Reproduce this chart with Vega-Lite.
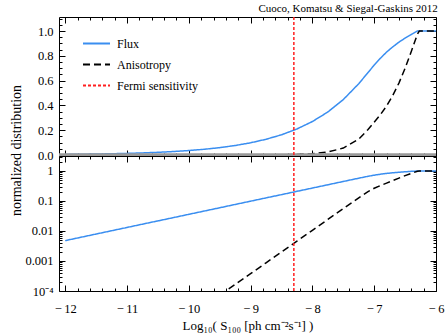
{
  "$schema": "https://vega.github.io/schema/vega-lite/v6.json",
  "padding": {"left": 8, "top": 2, "right": 5, "bottom": 5},
  "background": "white",
  "spacing": 0,
  "bounds": "flush",
  "datasets": {
    "curves": [
      {"x": -12, "series": "Flux", "value": 0.00478},
      {"x": -11.75, "series": "Flux", "value": 0.00615},
      {"x": -11.5, "series": "Flux", "value": 0.00791},
      {"x": -11.25, "series": "Flux", "value": 0.0102},
      {"x": -11, "series": "Flux", "value": 0.0131},
      {"x": -10.75, "series": "Flux", "value": 0.0169},
      {"x": -10.5, "series": "Flux", "value": 0.0217},
      {"x": -10.25, "series": "Flux", "value": 0.0279},
      {"x": -10, "series": "Flux", "value": 0.0359},
      {"x": -9.75, "series": "Flux", "value": 0.0462},
      {"x": -9.5, "series": "Flux", "value": 0.0594},
      {"x": -9.25, "series": "Flux", "value": 0.0766},
      {"x": -9, "series": "Flux", "value": 0.0985},
      {"x": -8.75, "series": "Flux", "value": 0.127},
      {"x": -8.5, "series": "Flux", "value": 0.163},
      {"x": -8.25, "series": "Flux", "value": 0.21},
      {"x": -8, "series": "Flux", "value": 0.27},
      {"x": -7.75, "series": "Flux", "value": 0.347},
      {"x": -7.5, "series": "Flux", "value": 0.447},
      {"x": -7.25, "series": "Flux", "value": 0.575},
      {"x": -7.1, "series": "Flux", "value": 0.665},
      {"x": -7, "series": "Flux", "value": 0.725},
      {"x": -6.9, "series": "Flux", "value": 0.78},
      {"x": -6.8, "series": "Flux", "value": 0.83},
      {"x": -6.7, "series": "Flux", "value": 0.872},
      {"x": -6.6, "series": "Flux", "value": 0.91},
      {"x": -6.5, "series": "Flux", "value": 0.943},
      {"x": -6.4, "series": "Flux", "value": 0.972},
      {"x": -6.3, "series": "Flux", "value": 1.0},
      {"x": -6, "series": "Flux", "value": 1.0},
      {"x": -9.5, "series": "Anisotropy", "value": 0.000072},
      {"x": -9.25, "series": "Anisotropy", "value": 0.000165},
      {"x": -9, "series": "Anisotropy", "value": 0.000379},
      {"x": -8.75, "series": "Anisotropy", "value": 0.00087},
      {"x": -8.5, "series": "Anisotropy", "value": 0.002},
      {"x": -8.25, "series": "Anisotropy", "value": 0.00459},
      {"x": -8, "series": "Anisotropy", "value": 0.01055},
      {"x": -7.75, "series": "Anisotropy", "value": 0.0243},
      {"x": -7.5, "series": "Anisotropy", "value": 0.0557},
      {"x": -7.25, "series": "Anisotropy", "value": 0.128},
      {"x": -7.1, "series": "Anisotropy", "value": 0.205},
      {"x": -7, "series": "Anisotropy", "value": 0.265},
      {"x": -6.9, "series": "Anisotropy", "value": 0.325},
      {"x": -6.8, "series": "Anisotropy", "value": 0.395},
      {"x": -6.7, "series": "Anisotropy", "value": 0.48},
      {"x": -6.6, "series": "Anisotropy", "value": 0.58},
      {"x": -6.5, "series": "Anisotropy", "value": 0.7},
      {"x": -6.4, "series": "Anisotropy", "value": 0.835},
      {"x": -6.3, "series": "Anisotropy", "value": 0.975},
      {"x": -6.27, "series": "Anisotropy", "value": 1.0},
      {"x": -6, "series": "Anisotropy", "value": 1.0}
    ],
    "fermi": [{"x": -8.3, "series": "Fermi sensitivity"}],
    "zero": [{"value": 0}]
  },
  "vconcat": [
    {
      "title": {"text": "Cuoco, Komatsu & Siegal-Gaskins 2012", "anchor": "end", "fontSize": 11, "font": "Liberation Serif", "fontWeight": "normal", "offset": -1, "color": "black"},
      "width": 377,
      "height": 139,
      "layer": [
        {
          "data": {"name": "curves"},
          "mark": {"type": "line", "clip": true, "strokeWidth": 1.5},
          "encoding": {
            "x": {"field": "x", "type": "quantitative", "scale": {"domain": [-12.1, -6], "nice": false, "zero": false},
              "axis": {"orient": "bottom", "labels": false, "title": null,
                "values": [-12,-11.8,-11.6,-11.4,-11.2,-11,-10.8,-10.6,-10.4,-10.2,-10,-9.8,-9.6,-9.4,-9.2,-9,-8.8,-8.6,-8.4,-8.2,-8,-7.8,-7.6,-7.4,-7.2,-7,-6.8,-6.6,-6.4,-6.2,-6],
                "tickSize": {"condition": {"test": "abs(datum.value - round(datum.value)) < 1e-6", "value": -6}, "value": -3}}},
            "y": {"field": "value", "type": "quantitative", "scale": {"domain": [-0.008, 1.113], "nice": false, "zero": false},
              "axis": {"orient": "left", "title": "normalized distribution", "titleX": -43, "titleY": 133, "titleAlign": "center", "titleBaseline": "middle", "titleAngle": -90, "titleFontSize": 14,
                "values": [0,0.05,0.1,0.15,0.2,0.25,0.3,0.35,0.4,0.45,0.5,0.55,0.6,0.65,0.7,0.75,0.8,0.85,0.9,0.95,1,1.05,1.1],
                "labelExpr": "abs(datum.value*5 - round(datum.value*5)) < 1e-6 && datum.value < 1.05 ? format(datum.value, '.1f') : ''",
                "labelPadding": 12,
                "tickSize": {"condition": {"test": "abs(datum.value*5 - round(datum.value*5)) < 1e-6", "value": -6}, "value": -3}}},
            "color": {"field": "series", "type": "nominal", "title": null,
              "scale": {"domain": ["Flux", "Anisotropy", "Fermi sensitivity"], "range": ["#3a8ef0", "#000000", "#ff2020"]},
              "legend": {"orient": "none", "legendX": 23, "legendY": 12, "padding": 0, "rowPadding": -8.5, "symbolSize": 729, "symbolStrokeWidth": 2, "labelOffset": 6, "labelFontSize": 12, "labelFont": "Liberation Serif", "labelColor": "black", "symbolType": "stroke"}},
            "strokeDash": {"field": "series", "type": "nominal", "title": null,
              "scale": {"domain": ["Flux", "Anisotropy", "Fermi sensitivity"], "range": [[1, 0], [7, 4], [3, 2]]},
              "legend": {"orient": "none", "legendX": 23, "legendY": 12, "padding": 0, "rowPadding": -8.5, "symbolSize": 729, "symbolStrokeWidth": 2, "labelOffset": 6, "labelFontSize": 12, "labelFont": "Liberation Serif", "labelColor": "black", "symbolType": "stroke"}}
          }
        },
        {
          "data": {"name": "zero"},
          "mark": {"type": "rule", "color": "#999999", "strokeWidth": 3.5},
          "encoding": {
            "y": {"field": "value", "type": "quantitative",
              "axis": {"orient": "right", "labels": false, "title": null,
                "values": [0,0.05,0.1,0.15,0.2,0.25,0.3,0.35,0.4,0.45,0.5,0.55,0.6,0.65,0.7,0.75,0.8,0.85,0.9,0.95,1,1.05,1.1],
                "tickSize": {"condition": {"test": "abs(datum.value*5 - round(datum.value*5)) < 1e-6", "value": -6}, "value": -3}}}
          }
        },
        {
          "data": {"name": "fermi"},
          "mark": {"type": "rule", "strokeWidth": 1.5},
          "encoding": {
            "x": {"field": "x", "type": "quantitative",
              "axis": {"orient": "top", "labels": false, "title": null,
                "values": [-12,-11.8,-11.6,-11.4,-11.2,-11,-10.8,-10.6,-10.4,-10.2,-10,-9.8,-9.6,-9.4,-9.2,-9,-8.8,-8.6,-8.4,-8.2,-8,-7.8,-7.6,-7.4,-7.2,-7,-6.8,-6.6,-6.4,-6.2,-6],
                "tickSize": {"condition": {"test": "abs(datum.value - round(datum.value)) < 1e-6", "value": -6}, "value": -3}}},
            "color": {"field": "series", "type": "nominal", "title": null},
            "strokeDash": {"field": "series", "type": "nominal", "title": null}
          }
        }
      ],
      "resolve": {"axis": {"x": "independent", "y": "independent"}}
    },
    {
      "width": 377,
      "height": 135,
      "layer": [
        {
          "data": {"name": "curves"},
          "mark": {"type": "line", "clip": true, "strokeWidth": 1.5},
          "encoding": {
            "x": {"field": "x", "type": "quantitative", "scale": {"domain": [-12.1, -6], "nice": false, "zero": false},
              "axis": {"orient": "bottom", "title": "Log₁₀( S₁₀₀ [ph cm⁻²s⁻¹] )", "titleFontSize": 13, "titlePadding": 2,
                "values": [-12,-11.8,-11.6,-11.4,-11.2,-11,-10.8,-10.6,-10.4,-10.2,-10,-9.8,-9.6,-9.4,-9.2,-9,-8.8,-8.6,-8.4,-8.2,-8,-7.8,-7.6,-7.4,-7.2,-7,-6.8,-6.6,-6.4,-6.2,-6],
                "labelExpr": "abs(datum.value - round(datum.value)) < 1e-6 ? '\u2212\u2009' + abs(round(datum.value)) : ''",
                "labelPadding": 17,
                "tickSize": {"condition": {"test": "abs(datum.value - round(datum.value)) < 1e-6", "value": -6}, "value": -3}}},
            "y": {"field": "value", "type": "quantitative", "scale": {"type": "log", "domain": [0.0001, 3.16], "nice": false},
              "axis": {"orient": "left", "title": null,
                "values": [0.0001,0.0002,0.0003,0.0004,0.0005,0.0006,0.0007,0.0008,0.0009,0.001,0.002,0.003,0.004,0.005,0.006,0.007,0.008,0.009,0.01,0.02,0.03,0.04,0.05,0.06,0.07,0.08,0.09,0.1,0.2,0.3,0.4,0.5,0.6,0.7,0.8,0.9,1,2,3],
                "labelExpr": "abs(log(datum.value)/LN10 - round(log(datum.value)/LN10)) < 1e-6 ? (round(log(datum.value)/LN10) == -4 ? '10⁻⁴' : format(datum.value, '~g')) : ''",
                "labelPadding": 12,
                "tickSize": {"condition": {"test": "abs(log(datum.value)/LN10 - round(log(datum.value)/LN10)) < 1e-6", "value": -6}, "value": -3}}},
            "color": {"field": "series", "type": "nominal", "legend": null,
              "scale": {"domain": ["Flux", "Anisotropy", "Fermi sensitivity"], "range": ["#3a8ef0", "#000000", "#ff2020"]}},
            "strokeDash": {"field": "series", "type": "nominal", "legend": null,
              "scale": {"domain": ["Flux", "Anisotropy", "Fermi sensitivity"], "range": [[1, 0], [7, 4], [3, 2]]}}
          }
        },
        {
          "data": {"name": "fermi"},
          "mark": {"type": "rule", "strokeWidth": 1.5},
          "encoding": {
            "x": {"field": "x", "type": "quantitative",
              "axis": {"orient": "top", "labels": false, "title": null,
                "values": [-12,-11.8,-11.6,-11.4,-11.2,-11,-10.8,-10.6,-10.4,-10.2,-10,-9.8,-9.6,-9.4,-9.2,-9,-8.8,-8.6,-8.4,-8.2,-8,-7.8,-7.6,-7.4,-7.2,-7,-6.8,-6.6,-6.4,-6.2,-6],
                "tickSize": {"condition": {"test": "abs(datum.value - round(datum.value)) < 1e-6", "value": -6}, "value": -3}}},
            "y": {"datum": 0.0001, "type": "quantitative",
              "axis": {"orient": "right", "labels": false, "title": null,
                "values": [0.0001,0.0002,0.0003,0.0004,0.0005,0.0006,0.0007,0.0008,0.0009,0.001,0.002,0.003,0.004,0.005,0.006,0.007,0.008,0.009,0.01,0.02,0.03,0.04,0.05,0.06,0.07,0.08,0.09,0.1,0.2,0.3,0.4,0.5,0.6,0.7,0.8,0.9,1,2,3],
                "tickSize": {"condition": {"test": "abs(log(datum.value)/LN10 - round(log(datum.value)/LN10)) < 1e-6", "value": -6}, "value": -3}}},
            "y2": {"datum": 3.16},
            "color": {"field": "series", "type": "nominal", "legend": null},
            "strokeDash": {"field": "series", "type": "nominal", "legend": null}
          }
        }
      ],
      "resolve": {"axis": {"x": "independent", "y": "independent"}}
    }
  ],
  "resolve": {"scale": {"color": "independent", "strokeDash": "independent"}, "legend": {"color": "independent", "strokeDash": "independent"}},
  "config": {
    "font": "Liberation Serif",
    "view": {"stroke": "#000000", "strokeWidth": 1},
    "axis": {"domain": false, "grid": false, "tickColor": "#000000", "tickWidth": 1, "labelFont": "Liberation Serif", "labelFontSize": 12.5, "labelColor": "#000000", "titleFont": "Liberation Serif", "titleFontWeight": "normal", "titleColor": "#000000", "labelFlush": false, "labelOverlap": false}
  }
}
